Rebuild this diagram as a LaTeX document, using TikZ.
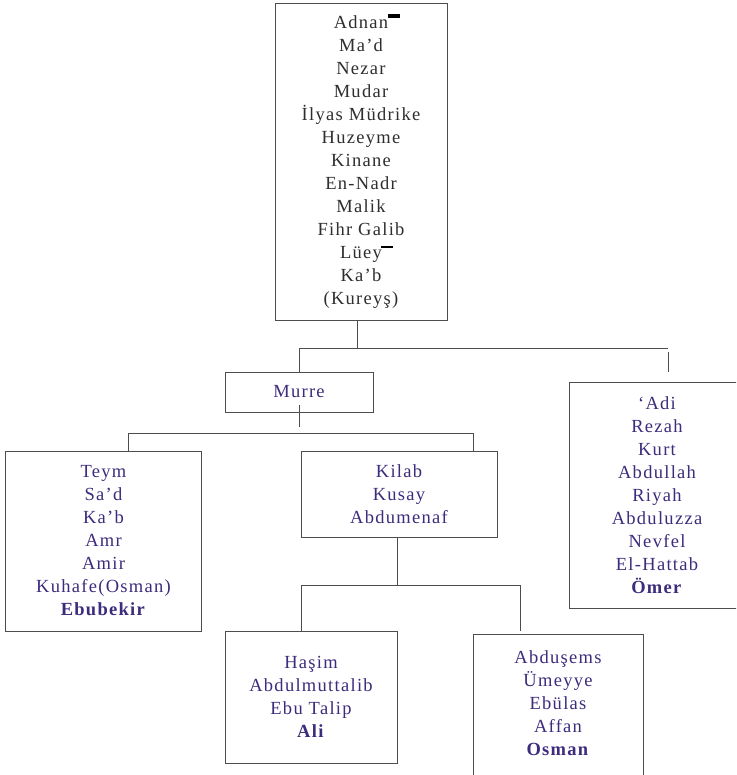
\documentclass[tikz,border=0pt]{standalone}
\usepackage{fontspec}
\setmainfont{Liberation Serif}[LetterSpace=7]
\usepackage{tikz}
\definecolor{nameclr}{HTML}{3D2B7C}
\definecolor{topclr}{HTML}{2E2E2E}
\definecolor{lineclr}{HTML}{4D4D4D}
\begin{document}
\begin{tikzpicture}[x=1pt,y=-1pt]
  \tikzstyle box=[draw=lineclr,line width=1pt,inner sep=0pt,align=center,
    font=\fontsize{18.5}{23}\selectfont,text=nameclr];
  \tikzstyle ln=[draw=lineclr,line width=1pt];
  \clip (0,0) rectangle (736,775);

  % boxes
  \node[box,text=topclr,minimum width=172pt,minimum height=316pt] (adnan) at (361,162)
    {Adnan\\Ma'd\\Nezar\\Mudar\\İlyas Müdrike\\Huzeyme\\Kinane\\En-Nadr\\Malik\\Fihr Galib\\Lüey\\Ka'b\\(Kureyş)};
  \node[box,minimum width=148pt,minimum height=40pt] (murre) at (299,392) {Murre};
  \node[box,minimum width=196pt,minimum height=180pt] (teym) at (103.5,541)
    {Teym\\Sa'd\\Ka'b\\Amr\\Amir\\Kuhafe(Osman)\\\textbf{Ebubekir}};
  \node[box,minimum width=196pt,minimum height=86pt] (kilab) at (399,494)
    {Kilab\\Kusay\\Abdumenaf};
  \node[box,minimum width=176pt,minimum height=226pt] (adi) at (657,495)
    {`Adi\\Rezah\\Kurt\\Abdullah\\Riyah\\Abduluzza\\Nevfel\\El-Hattab\\\textbf{Ömer}};
  \node[box,minimum width=172pt,minimum height=132pt] (hasim) at (311,697)
    {Haşim\\Abdulmuttalib\\Ebu Talip\\\textbf{Ali}};
  \node[box,draw=none] (abdusems) at (558,703)
    {Abduşems\\Ümeyye\\Ebülas\\Affan\\\textbf{Osman}};
  \draw[ln] (473,790) |- (643,634) -- (643,790);

  % marks
  \fill[black] (388,14) rectangle (400,18);
  \fill[black] (381,246) rectangle (393,248.5);

  % lines
  \coordinate (t1) at (357,348);
  \coordinate (t2) at (668,348);
  \draw[ln] (adnan.south -| t1) -- (t1);
  \draw[ln] (murre.north) |- (t2);
  \draw[ln] ([yshift=-4pt]t2) -- ([yshift=-24pt]t2);

  \coordinate (m2) at (128,433);
  \coordinate (m3) at (473,433);
  \draw[ln] ([yshift=-13pt]murre.center) -- ([yshift=-35pt]murre.center);
  \draw[ln] (m2 |- teym.north) -- (m2) -- (m3) -- (m3 |- kilab.north);

  \coordinate (k1) at (397,585);
  \coordinate (k2) at (301,585);
  \coordinate (k3) at (520,585);
  \draw[ln] (kilab.south -| k1) -- (k1);
  \draw[ln] (k2 |- hasim.north) -- (k2) -- (k3) -- ([yshift=-46pt]k3);
\end{tikzpicture}
\end{document}
